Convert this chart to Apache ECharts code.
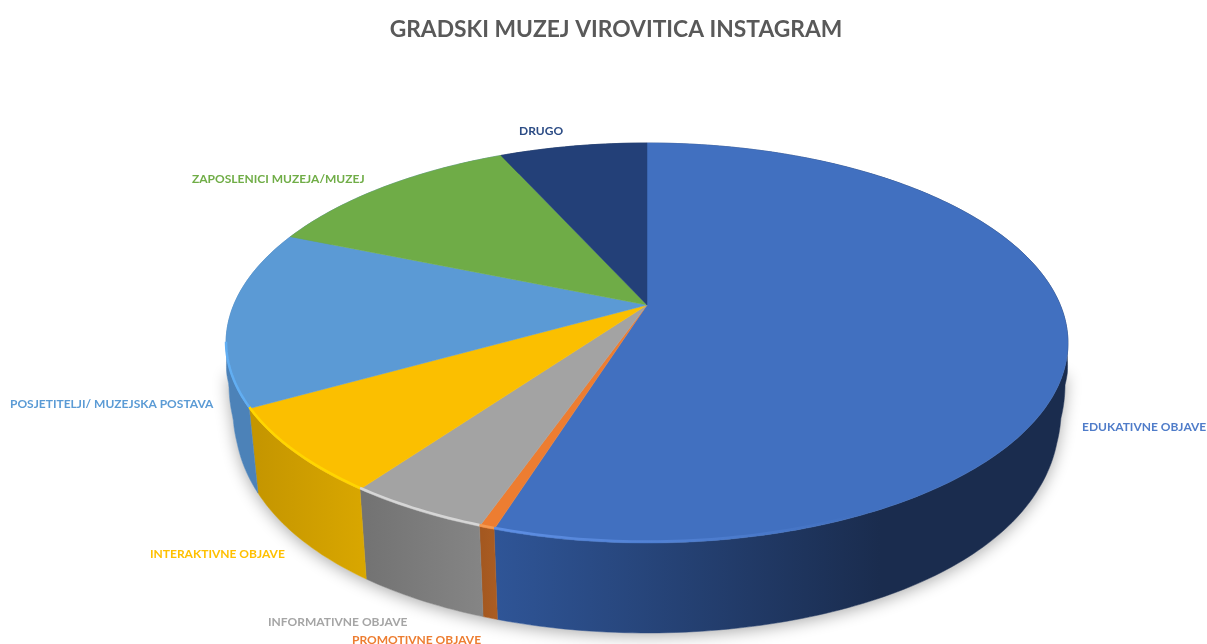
<!DOCTYPE html>
<html>
<head>
<meta charset="utf-8">
<script src="https://cdn.jsdelivr.net/npm/echarts@6/dist/echarts.min.js"></script>
<style>html,body{margin:0;padding:0;background:#fff}#c{width:1207px;height:644px;filter:blur(0.5px)}</style>
</head>
<body>
<div id="c"></div>
<script>
const categories = ['EDUKATIVNE OBJAVE','PROMOTIVNE OBJAVE','INFORMATIVNE OBJAVE','INTERAKTIVNE OBJAVE','POSJETITELJI/ MUZEJSKA POSTAVA','ZAPOSLENICI MUZEJA/MUZEJ','DRUGO'];
const values = [54.9, 0.5, 4.6, 6.9, 14.3, 12.0, 6.8];
const topColors = ['#4170c0','#ed7d31','#a3a3a3','#fbbf00','#5b9ad5','#6fac47','#234078'];
const labelColors = ['#4f7cc9','#ed7d31','#a5a5a5','#ffc000','#5b9bd5','#70ad47','#2c4c85'];
const wallLeft = ['#2f5597','#ab5d22','#858585','#d9a700','#4c82b8','#4c82b8','#1a3058'];
const wallRight = ['#1a2c4e','#a45820','#737373','#c59600','#4a7fb3','#4a7fb3','#1a3058'];
const rimColors = ['#5e8fe4','#f49a52','#d6d6d6','#ffd600','#62aef2','#6fac47','#234078'];
const labelAt = [[1082,427],[352,640],[268,622],[150,554],[10,404],[192,179],[519,131]];

const cx = 647, cy = 305, R = 413.3, S = 192.8, K = 0.19;
const Yb = 373.4, Sb = 233.6, Kb = 0.10;
const scaleStops = [[-0.123,1.045],[0,1.017],[0.05,1.003],[0.19,0.983],[0.29,0.979],[0.5,0.978]];
const total = values.reduce((a, b) => a + b, 0);

function bottomScale(v) {
  if (v <= scaleStops[0][0]) return scaleStops[0][1];
  for (let i = 1; i < scaleStops.length; i++) {
    if (v <= scaleStops[i][0]) {
      const p = scaleStops[i - 1], q = scaleStops[i];
      return p[1] + (q[1] - p[1]) * (v - p[0]) / (q[0] - p[0]);
    }
  }
  return scaleStops[scaleStops.length - 1][1];
}
function rimTop(deg) {
  const a = deg * Math.PI / 180, u = Math.sin(a), v = -Math.cos(a), w = 1 - K * v;
  return [cx + R * u / w, cy + S * v / w];
}
function rimBottom(deg) {
  const a = deg * Math.PI / 180, u = Math.sin(a), v = -Math.cos(a), w = 1 - K * v;
  return [cx + bottomScale(v) * R * u / w, Yb + Sb * v / (1 - Kb * v)];
}
function arc(fn, a, b) {
  const pts = [], n = Math.max(2, Math.ceil(Math.abs(b - a)));
  for (let i = 0; i <= n; i++) pts.push(fn(a + (b - a) * i / n));
  return pts;
}
function renderItem(params, api) {
  const i = params.dataIndex;
  let before = 0;
  for (let j = 0; j < i; j++) before += values[j];
  const a0 = before / total * 360, a1 = a0 + api.value(0) / total * 360;
  const children = [];
  if (i === 0) {
    children.push({
      type: 'polygon', z2: 0,
      shape: { points: arc(rimBottom, 90, 270) },
      style: { fill: '#fff', shadowBlur: 16, shadowColor: 'rgba(0,0,0,0.33)', shadowOffsetY: 3 }
    });
  }
  const g = new echarts.graphic.LinearGradient(
    i === 0 ? 495 : rimBottom(a0)[0], 0, i === 0 ? 880 : rimBottom(a1)[0], 0,
    [{ offset: 0, color: wallLeft[i] }, { offset: 1, color: wallRight[i] }], true);
  children.push({
    type: 'polygon', z2: 1,
    shape: { points: arc(rimTop, a0, a1).concat(arc(rimBottom, a1, a0)) },
    style: { fill: g, stroke: g, lineWidth: 0.5 }
  });
  children.push({
    type: 'polygon', z2: 2,
    shape: { points: [[cx, cy]].concat(arc(rimTop, a0, a1)) },
    style: { fill: topColors[i], stroke: topColors[i], lineWidth: 0.5 }
  });
  const h0 = Math.max(a0, 101), h1 = Math.min(a1, 259);
  if (h1 > h0) {
    const stroke = i === 0
      ? new echarts.graphic.LinearGradient(495, 0, 860, 0,
          [{ offset: 0, color: rimColors[0] }, { offset: 1, color: 'rgba(94,143,228,0)' }], true)
      : rimColors[i];
    children.push({
      type: 'polyline', z2: 3,
      shape: { points: arc(rimTop, h0, h1).map(p => [p[0], p[1] - 1.5]) },
      style: { fill: null, stroke, lineWidth: 2.5, lineCap: 'butt' }
    });
  }
  children.push({
    type: 'text', z2: 4, silent: true,
    x: labelAt[i][0], y: labelAt[i][1],
    style: {
      text: categories[i], fill: labelColors[i],
      font: 'bold 12px Lato, "Open Sans", sans-serif',
      textAlign: 'left', textVerticalAlign: 'middle'
    }
  });
  return { type: 'group', children };
}
const chart = echarts.init(document.getElementById('c'), null, { renderer: 'canvas' });
chart.setOption({
  animation: false,
  backgroundColor: '#ffffff',
  title: {
    text: 'GRADSKI MUZEJ VIROVITICA INSTAGRAM',
    left: 611, top: 13, textAlign: 'center',
    textStyle: { color: '#595959', fontFamily: 'Lato, "Open Sans", sans-serif', fontWeight: 'bold', fontSize: 22.8 }
  },
  series: [{
    type: 'custom',
    coordinateSystem: 'none',
    renderItem,
    data: values.map((v, i) => ({ name: categories[i], value: [v] }))
  }]
});
</script>
</body>
</html>
